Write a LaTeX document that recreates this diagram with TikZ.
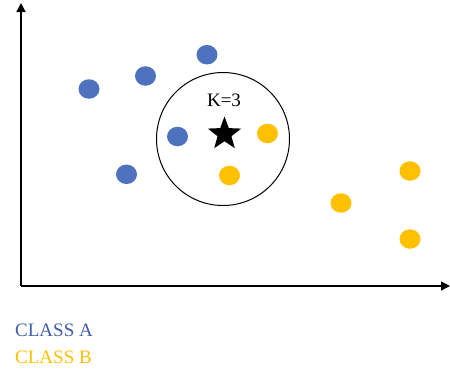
\documentclass[tikz,border=0pt]{standalone}
\usepackage{fontspec}
\setmainfont{Liberation Serif}
\usetikzlibrary{arrows.meta,shapes.geometric}
\definecolor{cblue}{HTML}{4F72BE}
\definecolor{cyellow}{HTML}{FFC000}
\definecolor{tblue}{HTML}{3F5DA8}
\tikzset{
  axis/.style={line width=1.4pt,-{Triangle[length=9pt,width=9pt]}},
  dotA/.style={ellipse,fill=cblue,minimum width=21pt,minimum height=19.5pt,inner sep=0pt},
  dotB/.style={ellipse,fill=cyellow,minimum width=21pt,minimum height=19.5pt,inner sep=0pt},
  lbl/.style={font=\fontsize{19}{19}\selectfont,inner sep=0pt},
}
\begin{document}
\begin{tikzpicture}[x=1pt,y=-1pt]
\useasboundingbox (0,0) rectangle (450,370);
\coordinate (o) at (21,286);
\coordinate (ytop) at (21,3);
\coordinate (xend) at (450,286);
\draw[axis] (o) -- (ytop);
\draw[axis] (o) -- (xend);
% neighbourhood circle
\node[circle,draw=black,line width=1pt,minimum size=133pt,inner sep=0pt] (nb) at (223,139) {};
% class A
\node[dotA] (a1) at (89,89) {};
\node[dotA] (a2) at (145.5,76) {};
\node[dotA] (a3) at (207,54.7) {};
\node[dotA] (a4) at (177.5,136.5) {};
\node[dotA] (a5) at (126.5,174.3) {};
% class B
\node[dotB] (b1) at (267.5,133.5) {};
\node[dotB] (b2) at (229.5,175.5) {};
\node[dotB] (b3) at (341,203) {};
\node[dotB] (b4) at (410,171) {};
\node[dotB] (b5) at (410,239) {};
% query point
\node[star,star points=5,star point ratio=2.4,fill=black,minimum size=35pt,inner sep=0pt] (q) at (224.5,134) {};
\node[lbl,anchor=base] (k) at (224,106) {K=3};
% legend
\node[lbl,anchor=base west,text=tblue] (la) at (15,336) {CLASS A};
\node[lbl,anchor=base west,text=cyellow] (lb) at (15,363.3) {CLASS B};
\end{tikzpicture}
\end{document}
